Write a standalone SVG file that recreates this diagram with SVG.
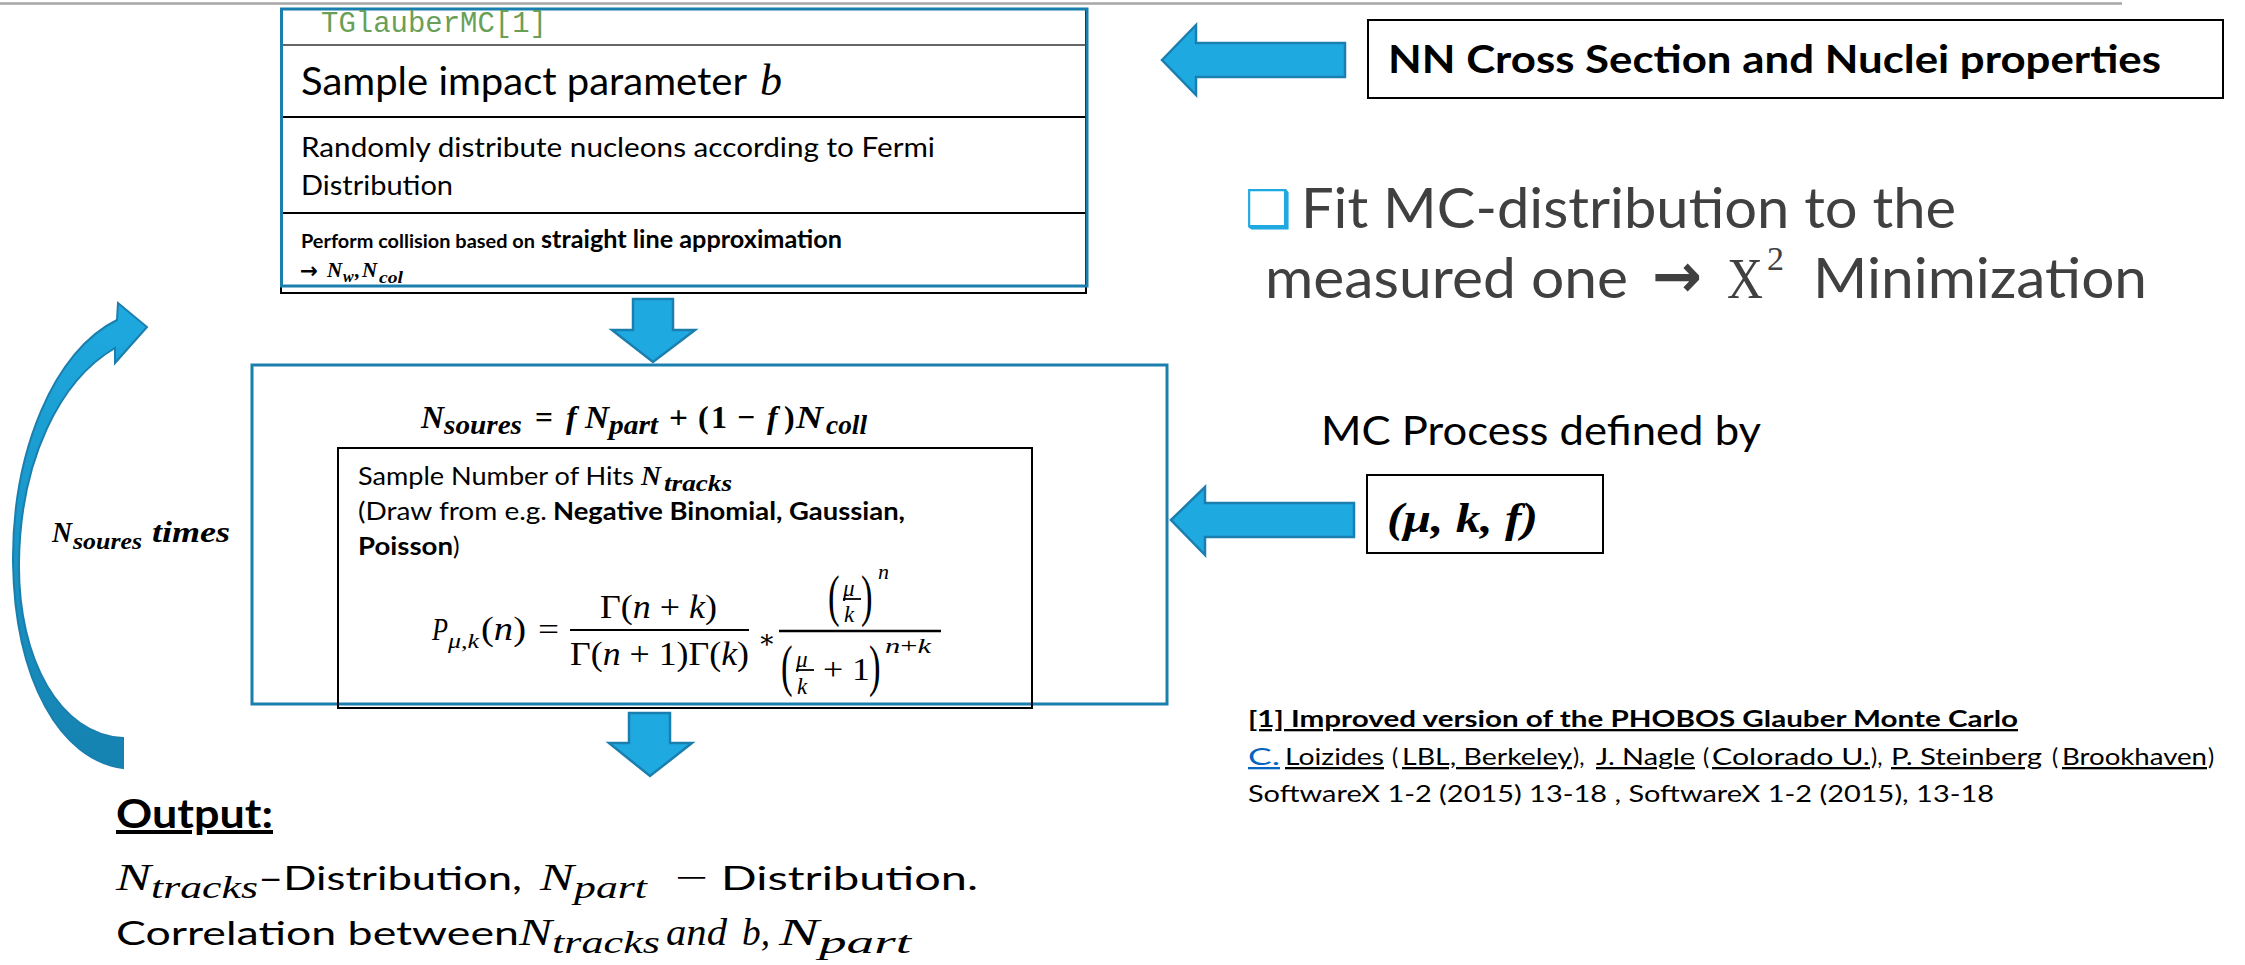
<svg xmlns="http://www.w3.org/2000/svg" width="2245" height="965" viewBox="0 0 2245 965">
<style>
.s{font-family:Lato,"Liberation Sans","DejaVu Sans",sans-serif;fill:#000}
.sb{font-family:Lato,"Liberation Sans","DejaVu Sans",sans-serif;font-weight:bold;fill:#000}
.m{font-family:"Liberation Serif","DejaVu Serif",serif;font-style:italic;fill:#000}
.mb{font-family:"Liberation Serif","DejaVu Serif",serif;font-style:italic;font-weight:bold;fill:#000}
.mr{font-family:"Liberation Serif","DejaVu Serif",serif;fill:#000}
.mrb{font-family:"Liberation Serif","DejaVu Serif",serif;font-weight:bold;fill:#000}
.blk{fill:none;stroke:#000;stroke-width:2}
.blu{fill:none;stroke:#1a7fae;stroke-width:3}
.arr{fill:#1eaae0;stroke:#1a7fae;stroke-width:2.5;stroke-linejoin:miter}
.gray{font-family:Lato,"Liberation Sans","DejaVu Sans",sans-serif;fill:#404040}
</style>
<defs>
<linearGradient id="loopGrad" x1="0" y1="300" x2="0" y2="770" gradientUnits="userSpaceOnUse">
<stop offset="0" stop-color="#1eaae0"/>
<stop offset="1" stop-color="#1582b0"/>
</linearGradient>
</defs>
<rect width="2245" height="965" fill="#fff"/>
<line x1="0" y1="3.5" x2="2122" y2="3.5" stroke="#a6a6a6" stroke-width="2.5"/>

<g id="connectors">
<polygon class="arr" points="633,299 673,299 673,330 695,330 653,362 612,330 633,330"/>
<polygon class="arr" points="629,713 670,713 670,743 692,743 650,776 609,743 629,743"/>
<polygon class="arr" points="1162,60 1196,25 1196,43 1345,43 1345,77 1196,77 1196,95"/>
<polygon class="arr" points="1171,520 1205,487 1205,503 1354,503 1354,537 1205,537 1205,555"/>
<path fill="url(#loopGrad)" stroke="#1a7fae" stroke-width="2" d="M123,768 C60,760 15,680 13,563 C12,450 55,350 117,320 L118,303 L147,327 L115,363 L115,348 C60,380 20,460 19,563 C18,660 60,735 123,738 Z"/>
</g>

<g id="loop-label">
<text class="mb" x="52" y="542" font-size="30" textLength="20" lengthAdjust="spacingAndGlyphs">N</text>
<text class="mb" x="73" y="549" font-size="24" textLength="69" lengthAdjust="spacingAndGlyphs">soures</text>
<text class="mb" x="152" y="542" font-size="30" textLength="78" lengthAdjust="spacingAndGlyphs">times</text>
</g>

<g id="glauber-box">
<rect class="blk" x="281" y="9" width="805" height="284"/>
<line x1="281" y1="45" x2="1086" y2="45" stroke="#333" stroke-width="1.5"/>
<line x1="281" y1="117" x2="1086" y2="117" stroke="#000" stroke-width="2"/>
<line x1="281" y1="213" x2="1086" y2="213" stroke="#000" stroke-width="2"/>
<rect class="blu" x="281.5" y="9" width="805.5" height="277" fill="none"/>
<text x="321" y="32" font-family="Liberation Mono,DejaVu Sans Mono,monospace" font-size="29" fill="#6a9f58" textLength="226" lengthAdjust="spacingAndGlyphs">TGlauberMC[1]</text>
<text class="s" x="301" y="95" font-size="39" textLength="446" lengthAdjust="spacingAndGlyphs">Sample impact parameter</text>
<text class="m" x="760" y="95" font-size="44">b</text>
<text class="s" x="301" y="157" font-size="27" textLength="634" lengthAdjust="spacingAndGlyphs">Randomly distribute nucleons according to Fermi</text>
<text class="s" x="301" y="195" font-size="27" textLength="152" lengthAdjust="spacingAndGlyphs">Distribution</text>
<text class="sb" x="301" y="248" font-size="19.5" textLength="234" lengthAdjust="spacingAndGlyphs">Perform collision based on</text>
<text class="sb" x="541" y="248" font-size="24.5" textLength="301" lengthAdjust="spacingAndGlyphs">straight line approximation</text>
<text x="300" y="278" font-family="DejaVu Sans,sans-serif" font-weight="bold" font-size="22" textLength="18" lengthAdjust="spacingAndGlyphs">→</text>
<text class="mb" x="327" y="277" font-size="21">N</text>
<text class="mb" x="343" y="282" font-size="16">w</text>
<text class="mb" x="355" y="277" font-size="21">,</text>
<text class="mb" x="362" y="277" font-size="21">N</text>
<text class="mb" x="379" y="283" font-size="17" textLength="24" lengthAdjust="spacingAndGlyphs">col</text>
</g>

<g id="sources-box">
<rect class="blu" x="252" y="365" width="915" height="339"/>
<rect class="blk" x="338" y="448" width="694" height="260"/>
<text class="mb" x="421" y="428" font-size="32" textLength="23" lengthAdjust="spacingAndGlyphs">N</text>
<text class="mb" x="444" y="434" font-size="27" textLength="78" lengthAdjust="spacingAndGlyphs">soures</text>
<text class="mrb" x="535" y="428" font-size="32" textLength="18" lengthAdjust="spacingAndGlyphs">=</text>
<text class="mb" x="566" y="428" font-size="32">f</text>
<text class="mb" x="585" y="428" font-size="32" textLength="24" lengthAdjust="spacingAndGlyphs">N</text>
<text class="mb" x="609" y="434" font-size="27" textLength="49" lengthAdjust="spacingAndGlyphs">part</text>
<text class="mrb" x="669" y="428" font-size="32" textLength="19" lengthAdjust="spacingAndGlyphs">+</text>
<text class="mrb" x="698" y="428" font-size="32">(</text>
<text class="mrb" x="711" y="428" font-size="32">1</text>
<text class="mrb" x="737" y="428" font-size="32" textLength="18" lengthAdjust="spacingAndGlyphs">−</text>
<text class="mb" x="767" y="428" font-size="32">f</text>
<text class="mrb" x="784" y="428" font-size="32">)</text>
<text class="mb" x="796" y="428" font-size="32" textLength="27" lengthAdjust="spacingAndGlyphs">N</text>
<text class="mb" x="826" y="434" font-size="27" textLength="41" lengthAdjust="spacingAndGlyphs">coll</text>

<text class="s" x="358" y="485" font-size="24.5" textLength="276" lengthAdjust="spacingAndGlyphs">Sample Number of Hits</text>
<text class="mb" x="641" y="485" font-size="28" textLength="20" lengthAdjust="spacingAndGlyphs">N</text>
<text class="mb" x="664" y="491" font-size="23" textLength="68" lengthAdjust="spacingAndGlyphs">tracks</text>
<text class="s" x="358" y="520" font-size="24.5" textLength="189" lengthAdjust="spacingAndGlyphs">(Draw from e.g.</text>
<text class="sb" x="553" y="520" font-size="24.5" textLength="352" lengthAdjust="spacingAndGlyphs">Negative Binomial, Gaussian,</text>
<text class="sb" x="358" y="555" font-size="24.5" textLength="95" lengthAdjust="spacingAndGlyphs">Poisson</text>
<text class="s" x="453" y="555" font-size="24.5">)</text>

<text class="m" x="432" y="640" font-size="32" textLength="16" lengthAdjust="spacingAndGlyphs">P</text>
<text class="m" x="448" y="648" font-size="22" textLength="31" lengthAdjust="spacingAndGlyphs">μ,k</text>
<text class="mr" x="481" y="640" font-size="34" textLength="45" lengthAdjust="spacingAndGlyphs">(<tspan font-style="italic">n</tspan>)</text>
<text class="mr" x="538" y="640" font-size="32" textLength="21" lengthAdjust="spacingAndGlyphs">=</text>
<line x1="570" y1="630" x2="749" y2="630" stroke="#000" stroke-width="2"/>
<text class="mr" x="600" y="618" font-size="34" textLength="117" lengthAdjust="spacingAndGlyphs">Γ(<tspan font-style="italic">n</tspan> + <tspan font-style="italic">k</tspan>)</text>
<text class="mr" x="570" y="665" font-size="34" textLength="179" lengthAdjust="spacingAndGlyphs">Γ(<tspan font-style="italic">n</tspan> + 1)Γ(<tspan font-style="italic">k</tspan>)</text>
<text class="mr" x="758" y="648" font-size="26">∗</text>
<line x1="779" y1="631" x2="941" y2="631" stroke="#000" stroke-width="2.5"/>
<text class="mr" transform="translate(828,615) scale(0.6,1)" font-size="58">(</text>
<text class="m" x="843" y="596" font-size="23">μ</text>
<line x1="843" y1="599" x2="861" y2="599" stroke="#000" stroke-width="1.8"/>
<text class="m" x="844" y="622" font-size="23">k</text>
<text class="mr" transform="translate(861,615) scale(0.6,1)" font-size="58">)</text>
<text class="m" x="878" y="579" font-size="22">n</text>
<text class="mr" transform="translate(781,685) scale(0.6,1)" font-size="58">(</text>
<text class="m" x="796" y="667" font-size="23">μ</text>
<line x1="796" y1="670" x2="814" y2="670" stroke="#000" stroke-width="1.8"/>
<text class="m" x="797" y="694" font-size="23">k</text>
<text class="mr" x="823" y="680" font-size="32" textLength="47" lengthAdjust="spacingAndGlyphs">+ 1</text>
<text class="mr" transform="translate(869,685) scale(0.6,1)" font-size="58">)</text>
<text class="mr" x="885" y="653" font-size="22" textLength="46" lengthAdjust="spacingAndGlyphs"><tspan font-style="italic">n</tspan>+<tspan font-style="italic">k</tspan></text>
</g>

<g id="output">
<text class="sb" x="116" y="828" font-size="40" textLength="157" lengthAdjust="spacingAndGlyphs" text-decoration="underline">Output:</text>
<text class="m" x="116" y="890" font-size="37" textLength="35" lengthAdjust="spacingAndGlyphs">N</text>
<text class="m" x="151" y="898" font-size="31" textLength="107" lengthAdjust="spacingAndGlyphs">tracks</text>
<text class="s" x="258" y="890" font-size="33" textLength="264" lengthAdjust="spacingAndGlyphs">–Distribution,</text>
<text class="m" x="540" y="890" font-size="37" textLength="34" lengthAdjust="spacingAndGlyphs">N</text>
<text class="m" x="574" y="898" font-size="31" textLength="73" lengthAdjust="spacingAndGlyphs">part</text>
<text class="mr" x="675" y="890" font-size="37" textLength="33" lengthAdjust="spacingAndGlyphs">−</text>
<text class="s" x="721" y="890" font-size="33" textLength="257" lengthAdjust="spacingAndGlyphs">Distribution.</text>
<text class="s" x="116" y="945" font-size="33" textLength="403" lengthAdjust="spacingAndGlyphs">Correlation between</text>
<text class="m" x="519" y="945" font-size="37" textLength="33" lengthAdjust="spacingAndGlyphs">N</text>
<text class="m" x="552" y="953" font-size="31" textLength="108" lengthAdjust="spacingAndGlyphs">tracks</text>
<text class="m" x="666" y="945" font-size="37" textLength="61" lengthAdjust="spacingAndGlyphs">and</text>
<text class="m" x="742" y="945" font-size="37" textLength="28" lengthAdjust="spacingAndGlyphs">b,</text>
<text class="m" x="779" y="945" font-size="37" textLength="40" lengthAdjust="spacingAndGlyphs">N</text>
<text class="m" x="819" y="953" font-size="31" textLength="92" lengthAdjust="spacingAndGlyphs">part</text>
</g>

<g id="nn-box">
<rect class="blk" x="1368" y="20" width="855" height="78" fill="#fff"/>
<text class="sb" x="1388" y="73" font-size="39" textLength="773" lengthAdjust="spacingAndGlyphs">NN Cross Section and Nuclei properties</text>
</g>

<g id="fit-text">
<text x="1245" y="227" font-family="DejaVu Sans,sans-serif" font-size="52" fill="#1eaae0">❑</text>
<text class="gray" x="1301" y="228" font-size="56" textLength="655" lengthAdjust="spacingAndGlyphs">Fit MC-distribution to the</text>
<text class="gray" x="1265" y="298" font-size="56" textLength="363" lengthAdjust="spacingAndGlyphs">measured one</text>
<text x="1652" y="297" font-family="DejaVu Sans,sans-serif" font-weight="bold" font-size="62" fill="#404040" textLength="50" lengthAdjust="spacingAndGlyphs">→</text>
<text x="1727" y="298" font-family="Liberation Serif,DejaVu Serif,serif" font-size="56" fill="#404040" textLength="36" lengthAdjust="spacingAndGlyphs">X</text>
<text x="1767" y="270" font-family="Liberation Serif,DejaVu Serif,serif" font-size="34" fill="#404040">2</text>
<text class="gray" x="1813" y="298" font-size="56" textLength="334" lengthAdjust="spacingAndGlyphs">Minimization</text>
</g>

<g id="mc-process">
<text class="s" x="1321" y="445" font-size="40" textLength="440" lengthAdjust="spacingAndGlyphs">MC Process defined by</text>
</g>

<g id="params-box">
<rect class="blk" x="1367" y="475" width="236" height="78" fill="#fff"/>
<text class="mb" x="1387" y="532" font-size="42" textLength="151" lengthAdjust="spacingAndGlyphs">(μ, k, f)</text>
</g>

<g id="reference">
<text class="sb" x="1248" y="727" font-size="23" textLength="770" lengthAdjust="spacingAndGlyphs" text-decoration="underline">[1] Improved version of the PHOBOS Glauber Monte Carlo</text>
<text class="s" x="1248" y="765" font-size="23" textLength="32" lengthAdjust="spacingAndGlyphs" text-decoration="underline" style="fill:#0563c1">C.</text>
<text class="s" x="1285" y="765" font-size="23" textLength="99" lengthAdjust="spacingAndGlyphs" text-decoration="underline">Loizides</text>
<text class="s" x="1392" y="765" font-size="23">(</text>
<text class="s" x="1402" y="765" font-size="23" textLength="170" lengthAdjust="spacingAndGlyphs" text-decoration="underline">LBL, Berkeley</text>
<text class="s" x="1573" y="765" font-size="23">),</text>
<text class="s" x="1596" y="765" font-size="23" textLength="99" lengthAdjust="spacingAndGlyphs" text-decoration="underline">J. Nagle</text>
<text class="s" x="1703" y="765" font-size="23">(</text>
<text class="s" x="1712" y="765" font-size="23" textLength="158" lengthAdjust="spacingAndGlyphs" text-decoration="underline">Colorado U.</text>
<text class="s" x="1871" y="765" font-size="23">),</text>
<text class="s" x="1891" y="765" font-size="23" textLength="151" lengthAdjust="spacingAndGlyphs" text-decoration="underline">P. Steinberg</text>
<text class="s" x="2052" y="765" font-size="23">(</text>
<text class="s" x="2062" y="765" font-size="23" textLength="145" lengthAdjust="spacingAndGlyphs" text-decoration="underline">Brookhaven</text>
<text class="s" x="2208" y="765" font-size="23">)</text>
<text class="s" x="1248" y="802" font-size="23" textLength="746" lengthAdjust="spacingAndGlyphs">SoftwareX 1-2 (2015) 13-18 , SoftwareX 1-2 (2015), 13-18</text>
</g>
</svg>
